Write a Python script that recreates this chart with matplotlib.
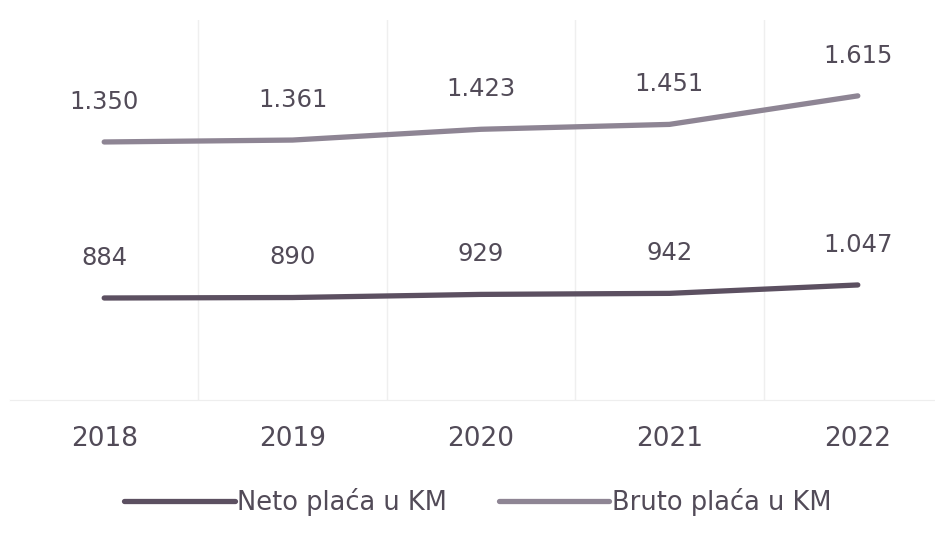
import numpy as np
import matplotlib.pyplot as plt

years = ['2018', '2019', '2020', '2021', '2022']
neto = [884, 890, 929, 942, 1047]
bruto = [1350, 1361, 1423, 1451, 1615]
neto_labels = ['884', '890', '929', '942', '1.047']
bruto_labels = ['1.350', '1.361', '1.423', '1.451', '1.615']

txt = '#524b58'
c_neto = '#5c5061'
c_bruto = '#8e8594'

plt.rcParams['font.family'] = ['DejaVu Sans']

fig = plt.figure(figsize=(9.35, 5.38), dpi=100)
# plot area runs a bit past the right edge, like the cropped scan
ax = fig.add_axes([10 / 935, 138 / 538, 942 / 935, 380 / 538])
ax2 = ax.twinx()

x = np.arange(len(years))
l1, = ax.plot(x, neto, color=c_neto, lw=3.8, solid_capstyle='round',
              label='Neto plaća u KM')
l2, = ax2.plot(x, bruto, color=c_bruto, lw=3.8, solid_capstyle='round',
               label='Bruto plaća u KM')

ax.set_ylim(-391, 4359)
ax2.set_ylim(-133, 2051)
ax.set_xlim(-0.5, 4.5)

for xi, v, s in zip(x, neto, neto_labels):
    ax.annotate(s, (xi, v), xytext=(0, 29), textcoords='offset points',
                ha='center', va='center', fontsize=17.5, color=txt)
for xi, v, s in zip(x, bruto, bruto_labels):
    ax2.annotate(s, (xi, v), xytext=(0, 29), textcoords='offset points',
                 ha='center', va='center', fontsize=17.5, color=txt)

# faint category gridlines
ax.set_xticks(x + 0.5, minor=True)
ax.grid(True, which='minor', axis='x', color='#efefef', lw=1)
ax.set_xticks(x)
ax.set_xticklabels(years, fontsize=19, color=txt)
ax.tick_params(axis='x', which='both', length=0, pad=19)
ax.set_yticks([])
ax2.set_yticks([])
for a in (ax, ax2):
    for side in ('top', 'left', 'right'):
        a.spines[side].set_visible(False)
    a.spines['bottom'].set_color('#eeeeee')

fig.legend(handles=[l1, l2], loc='center', bbox_to_anchor=(0.511, 0.067),
           ncol=2, frameon=False, fontsize=18.5, labelcolor=txt,
           handlelength=4.3, handletextpad=0.1, columnspacing=2.0)

fig.savefig('out.png', dpi=100, facecolor='white')
